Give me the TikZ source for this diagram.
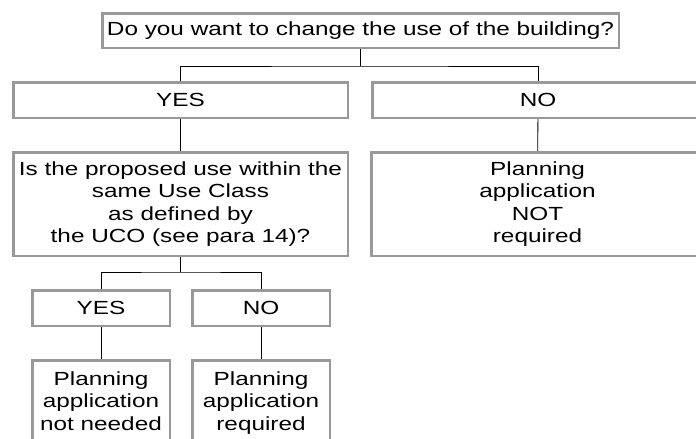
\documentclass[tikz,border=0pt]{standalone}
\usepackage{fontspec}
\setmainfont{Liberation Sans}[FakeStretch=1.28]
\definecolor{boxgray}{HTML}{999999}

\begin{document}
\begin{tikzpicture}[x=1pt,y=-1pt,
  box/.style={draw=boxgray,line width=2.5pt,fill=white,align=center,inner sep=0pt,
    font=\fontsize{19}{22.5}\selectfont},
  link/.style={draw=black,line width=0.8pt}]
  \clip (0,0) rectangle (696,439);
  \fill[white] (0,0) rectangle (696,439);

  \node[box,minimum width=516.5pt,minimum height=34.5pt] (change) at (360.5,30.5)
    {Do you want to change the use of the building?};

  \node[box,minimum width=334.5pt,minimum height=35.5pt] (yes) at (180.5,100) {YES};
  \node[box,minimum width=331.5pt,minimum height=35.5pt] (no) at (538,100) {NO};

  \node[box,minimum width=334.5pt,minimum height=103.5pt] (useclass) at (180.5,204)
    {Is the proposed use within the\\same Use Class\\as defined by\\the UCO (see para 14)?};
  \node[box,minimum width=332.5pt,minimum height=103.5pt] (notreq) at (537.5,204)
    {Planning\\application\\NOT\\required};

  \node[box,minimum width=137.5pt,minimum height=35.5pt] (yes2) at (101,308) {YES};
  \node[box,minimum width=137.5pt,minimum height=35.5pt] (no2) at (261,308) {NO};

  \node[box,minimum width=137.5pt,minimum height=87.5pt] (notneeded) at (101,404)
    {Planning\\application\\not needed\strut};
  \node[box,minimum width=137.5pt,minimum height=87.5pt] (req) at (261,404)
    {Planning\\application\\required\strut};

  \coordinate (split1) at (360.5,66);
  \coordinate (split2) at (180.5,272);

  \draw[link] (change.south) -- (split1);
  \draw[link] (yes.north) |- (split1) -| (no.north);
  \draw[link] (yes) -- (useclass);
  \draw[link] (no) -- (notreq);
  \draw[link] (useclass.south) -- (split2);
  \draw[link] (yes2.north) |- (split2) -| (no2.north);
  \draw[link] (yes2) -- (notneeded);
  \draw[link] (no2) -- (req);
\end{tikzpicture}
\end{document}
